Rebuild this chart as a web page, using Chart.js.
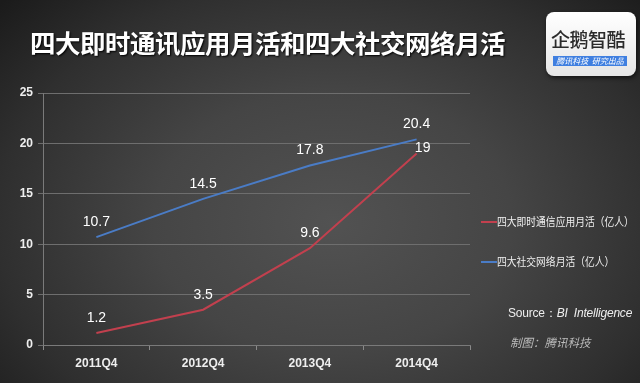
<!DOCTYPE html>
<html>
<head>
<meta charset="utf-8">
<script src="https://cdn.jsdelivr.net/npm/chart.js@4.4.1/dist/chart.umd.min.js"></script>
<style>
html,body{margin:0;padding:0;}
body{width:640px;height:383px;overflow:hidden;position:relative;
 background:radial-gradient(ellipse 70% 85% at 52% 58%, #525252 0%, #454545 40%, #2f2f2f 75%, #1b1b1b 100%);
 font-family:"Liberation Sans","Noto Sans CJK SC",sans-serif;}
#wrap{position:absolute;left:0;top:0;width:640px;height:383px;}
#title{position:absolute;left:30px;top:23px;color:#fff;font:bold 25.5px "Noto Sans CJK SC",sans-serif;letter-spacing:-0.5px;white-space:nowrap;text-shadow:1px 1px 2px #000;}
#logo{position:absolute;left:546px;top:12px;width:90px;height:64px;background:linear-gradient(#fff,#e6e6e6);border-radius:8px;box-shadow:1px 2px 4px rgba(0,0,0,.6);}
#logo .t{position:absolute;left:5px;top:13px;font:500 19px "Noto Sans CJK SC",sans-serif;color:#2a2a2a;letter-spacing:-0.5px;white-space:nowrap;}
#logo .b{position:absolute;left:7px;top:44px;width:74px;height:10px;background:#3f7fe0;color:#fff;font:italic 8px "Noto Sans CJK SC",sans-serif;line-height:10px;text-align:center;white-space:nowrap;}
.leg{position:absolute;left:481px;color:#f0f0f0;white-space:nowrap;height:16px;}
.leg i{position:absolute;left:0;top:8px;width:16px;height:2px;}
.leg span{position:absolute;left:16px;top:0;font:11.5px "Noto Sans CJK SC",sans-serif;transform:scaleX(0.85);transform-origin:0 50%;}
#src{position:absolute;left:508px;top:305px;color:#eee;font:12px "Liberation Sans",sans-serif;white-space:nowrap;letter-spacing:-0.2px;}
#src em{font-style:italic;}
#mk{position:absolute;left:510px;top:334px;color:#bbb;font:italic 11.5px "Noto Sans CJK SC",sans-serif;white-space:nowrap;}
</style>
</head>
<body>
<div id="wrap"><canvas id="c" width="640" height="383"></canvas></div>
<div id="title">四大即时通讯应用月活和四大社交网络月活</div>
<div id="logo"><div class="t">企鹅智酷</div><div class="b">腾讯科技 &nbsp;研究出品</div></div>
<div class="leg" id="l1" style="top:213px"></div>
<div class="leg" id="l2" style="top:253px"></div>
<div id="src">Source：<em>BI&nbsp; Intelligence</em></div>
<div id="mk">制图：腾讯科技</div>
<script>
const categories = ["2011Q4","2012Q4","2013Q4","2014Q4"];
const imValues = [1.2, 3.5, 9.6, 19];
const socialValues = [10.7, 14.5, 17.8, 20.4];
const seriesNames = ["四大即时通信应用月活（亿人）","四大社交网络月活（亿人）"];
const yTicks = [0,5,10,15,20,25];
const colors = ["#c2404e","#4a7cc6"];

document.getElementById('l1').innerHTML = '<i style="background:'+colors[0]+'"></i><span>'+seriesNames[0]+'</span>';
document.getElementById('l2').innerHTML = '<i style="background:'+colors[1]+'"></i><span>'+seriesNames[1]+'</span>';

const labelPlugin = {
  id:'pointLabels',
  afterDatasetsDraw(chart){
    const ctx = chart.ctx;
    ctx.save();
    ctx.font = '14px "Liberation Sans", sans-serif';
    ctx.fillStyle = '#ffffff';
    ctx.textAlign = 'center';
    ctx.textBaseline = 'middle';
    chart.data.datasets.forEach((ds, di) => {
      const meta = chart.getDatasetMeta(di);
      meta.data.forEach((pt, i) => {
        let dx = 0, dy = -15;
        chart.data.datasets.forEach((o, oi) => {
          if (oi === di) return;
          const op = chart.getDatasetMeta(oi).data[i];
          if (op && op.y < pt.y && pt.y - op.y < 25) { dx = 6; dy = -5; }
        });
        ctx.fillText(String(ds.data[i]), pt.x + dx, pt.y + dy);
      });
    });
    ctx.restore();
  }
};

new Chart(document.getElementById('c'), {
  type:'line',
  data:{
    labels:categories,
    datasets:[
      {label:seriesNames[0], data:imValues, borderColor:colors[0], borderWidth:2, pointRadius:0, tension:0, fill:false},
      {label:seriesNames[1], data:socialValues, borderColor:colors[1], borderWidth:2, pointRadius:0, tension:0, fill:false}
    ]
  },
  options:{
    responsive:false, animation:false, devicePixelRatio:1,
    layout:{padding:{top:93,left:0,right:170,bottom:0}},
    plugins:{legend:{display:false}, tooltip:{enabled:false}},
    scales:{
      x:{
        offset:true,
        grid:{display:true, drawOnChartArea:false, drawTicks:true, tickLength:5, color:'#8a8a8a', offset:true},
        border:{color:'#7a7a7a', width:1},
        ticks:{color:'#eeeeee', font:{family:'"Liberation Sans", sans-serif', size:12, weight:'bold'}, padding:6},
        afterFit(s){ s.height = 38; }
      },
      y:{
        min:0, max:25,
        afterBuildTicks(s){ s.ticks = yTicks.map(v=>({value:v})); },
        grid:{color:'#6e6e6e', lineWidth:1, drawTicks:true, tickLength:5},
        border:{color:'#7a7a7a', width:1},
        ticks:{color:'#eeeeee', font:{family:'"Liberation Sans", sans-serif', size:12, weight:'bold'}, padding:5},
        afterFit(s){ s.width = 43; }
      }
    }
  },
  plugins:[labelPlugin]
});
</script>
</body>
</html>
